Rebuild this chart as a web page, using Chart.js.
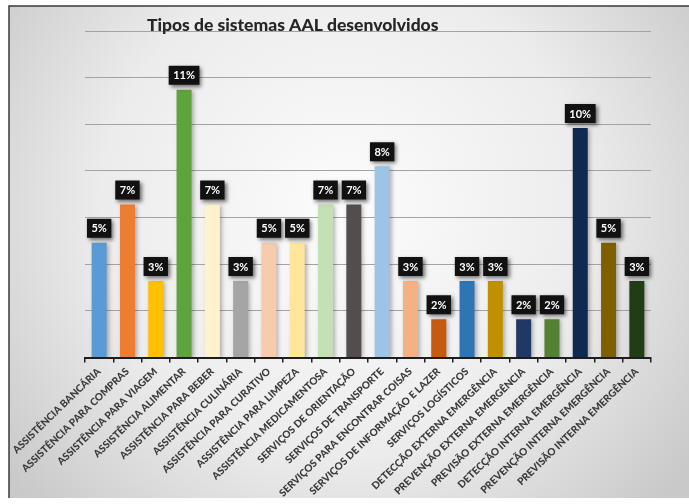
<!DOCTYPE html>
<html>
<head>
<meta charset="utf-8">
<script src="https://cdn.jsdelivr.net/npm/chart.js@4/dist/chart.umd.min.js"></script>
<style>
  html, body { margin: 0; padding: 0; background: #ffffff; }
  #wrap { width: 689px; height: 504px; }
</style>
</head>
<body>
<div id="wrap"><canvas id="chart" width="689" height="504"></canvas></div>
<script>
// Categories of AAL systems
const categories = [
  'ASSISTÊNCIA BANCÁRIA',
  'ASSISTÊNCIA PARA COMPRAS',
  'ASSISTÊNCIA PARA VIAGEM',
  'ASSISTÊNCIA ALIMENTAR',
  'ASSISTÊNCIA PARA BEBER',
  'ASSISTÊNCIA CULINÁRIA',
  'ASSISTÊNCIA PARA CURATIVO',
  'ASSISTÊNCIA PARA LIMPEZA',
  'ASSISTÊNCIA MEDICAMENTOSA',
  'SERVIÇOS DE ORIENTAÇÃO',
  'SERVIÇOS DE TRANSPORTE',
  'SERVIÇOS PARA ENCONTRAR COISAS',
  'SERVIÇOS DE INFORMAÇÃO E LAZER',
  'SERVIÇOS LOGÍSTICOS',
  'DETECÇÃO EXTERNA EMERGÊNCIA',
  'PREVENÇÃO EXTERNA EMERGÊNCIA',
  'PREVISÃO EXTERNA EMERGÊNCIA',
  'DETECÇÃO INTERNA EMERGÊNCIA',
  'PREVENÇÃO INTERNA EMERGÊNCIA',
  'PREVISÃO INTERNA EMERGÊNCIA'
];

// Share of systems per category (%)
const shares = [
  4.92, 6.56, 3.28, 11.48, 6.56, 3.28, 4.92, 4.92, 6.56, 6.56,
  8.20, 3.28, 1.64, 3.28, 3.28, 1.64, 1.64, 9.84, 4.92, 3.28
];

const barColors = [
  '#5b9bd5', '#ed7d31', '#ffc000', '#5fa33c', '#fff2cc',
  '#a5a5a5', '#f8cbad', '#ffe699', '#c5e0b4', '#534d4d',
  '#9dc3e6', '#f4b183', '#c55a11', '#2e75b6', '#bf9000',
  '#203864', '#548235', '#0f2a50', '#7f6000', '#213d16'
];

// Value axis range (gridlines every 2 %)
const yMin = 0;
const yMax = 14;
const yStep = 2;

const chartTitle = 'Tipos de sistemas AAL desenvolvidos';

Chart.defaults.font.family = 'Lato, "Liberation Sans", sans-serif';

// Framed panel with a soft radial light in the middle
const panelBackdrop = {
  id: 'panelBackdrop',
  beforeDraw(chart) {
    const { ctx, width, height } = chart;
    ctx.save();
    ctx.fillStyle = '#ffffff';
    ctx.fillRect(0, 0, width, height);
    const px = 9, py = 6, pw = width - px, ph = height - 6 - py;
    const g = ctx.createRadialGradient(width * 0.5, height * 0.42, 20, width * 0.5, height * 0.42, width * 0.62);
    g.addColorStop(0, '#fbfbfb');
    g.addColorStop(0.55, '#ececec');
    g.addColorStop(1, '#c9c9c9');
    ctx.fillStyle = g;
    ctx.fillRect(px, py, pw, ph);
    ctx.strokeStyle = '#3a3a3a';
    ctx.lineWidth = 1.5;
    ctx.beginPath();
    ctx.moveTo(px, height - 6);
    ctx.lineTo(px, py);
    ctx.lineTo(width, py);
    ctx.stroke();
    ctx.restore();
  }
};

// Soft shadow behind the bars
const barShadow = {
  id: 'barShadow',
  beforeDatasetsDraw(chart) {
    const ctx = chart.ctx;
    ctx.save();
    ctx.shadowColor = 'rgba(0,0,0,0.28)';
    ctx.shadowBlur = 4;
    ctx.shadowOffsetX = 2;
    ctx.shadowOffsetY = 1;
  },
  afterDatasetsDraw(chart) {
    chart.ctx.restore();
  }
};

// Black value tags above each bar
const valueTags = {
  id: 'valueTags',
  afterDatasetsDraw(chart) {
    const ctx = chart.ctx;
    const meta = chart.getDatasetMeta(0);
    const values = chart.data.datasets[0].data;
    ctx.save();
    ctx.font = 'bold 11px Lato, "Liberation Sans", sans-serif';
    ctx.textAlign = 'center';
    ctx.textBaseline = 'middle';
    meta.data.forEach((bar, i) => {
      const text = Math.round(values[i]) + '%';
      const tw = ctx.measureText(text).width;
      const bw = tw + 9, bh = 19;
      const bx = bar.x - bw / 2;
      const by = bar.y - 5 - bh;
      ctx.save();
      ctx.shadowColor = 'rgba(0,0,0,0.55)';
      ctx.shadowBlur = 4;
      ctx.shadowOffsetX = 2;
      ctx.shadowOffsetY = 2;
      ctx.fillStyle = '#111111';
      ctx.fillRect(bx, by, bw, bh);
      ctx.restore();
      ctx.fillStyle = '#ffffff';
      ctx.fillText(text, bar.x, by + bh / 2 + 0.5);
    });
    ctx.restore();
  }
};

// Title placed over the left part of the plot
const titleText = {
  id: 'titleText',
  afterDraw(chart) {
    const { ctx, chartArea } = chart;
    ctx.save();
    ctx.font = '900 17.5px Lato, "Liberation Sans", sans-serif';
    ctx.fillStyle = '#262626';
    ctx.textAlign = 'center';
    ctx.textBaseline = 'alphabetic';
    ctx.fillText(chartTitle, chartArea.left + chartArea.width * 0.367, chartArea.top);
    ctx.restore();
  }
};

new Chart(document.getElementById('chart'), {
  type: 'bar',
  data: {
    labels: categories,
    datasets: [{
      data: shares,
      backgroundColor: barColors,
      borderWidth: 0,
      categoryPercentage: 1,
      barPercentage: 0.53
    }]
  },
  options: {
    responsive: false,
    animation: false,
    devicePixelRatio: 1,
    layout: { padding: { left: 85, right: 38, top: 31, bottom: 0 } },
    plugins: {
      legend: { display: false },
      title: { display: false },
      tooltip: { enabled: false }
    },
    scales: {
      x: {
        offset: true,
        grid: {
          display: true,
          drawOnChartArea: false,
          drawTicks: true,
          tickLength: 5,
          color: '#1e1e1e',
          lineWidth: 1.5
        },
        border: { display: true, color: '#1e1e1e', width: 2 },
        ticks: {
          autoSkip: false,
          minRotation: 44,
          maxRotation: 44,
          padding: 3,
          color: '#3a3a3a',
          font: { size: 10.1, weight: '900' }
        },
        afterFit(scale) { scale.height = 504 - 357.5; }
      },
      y: {
        min: yMin,
        max: yMax,
        ticks: { display: false, stepSize: yStep },
        grid: { color: '#a3a3a3', lineWidth: 1, drawTicks: false },
        border: { display: false },
        afterFit(scale) { scale.width = 0; }
      }
    }
  },
  plugins: [panelBackdrop, barShadow, valueTags, titleText]
});
</script>
</body>
</html>
